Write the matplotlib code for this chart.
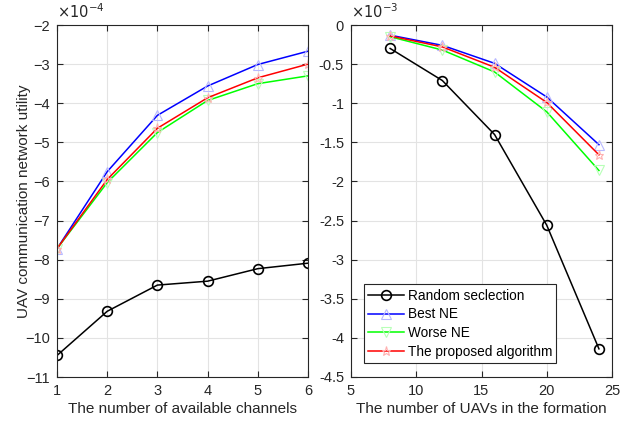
import numpy as np
import matplotlib.pyplot as plt

plt.rcParams['font.family'] = ['Liberation Sans', 'DejaVu Sans']

# -------------------------------
# Datos (izquierda en unidades de 1e-4, derecha en 1e-3)
# -------------------------------
channels = [1, 2, 3, 4, 5, 6]
ch_random = [-10.45, -9.32, -8.65, -8.55, -8.23, -8.09]
ch_best = [-7.72, -5.75, -4.31, -3.56, -3.01, -2.67]
ch_worse = [-7.72, -6.03, -4.75, -3.93, -3.50, -3.30]
ch_proposed = [-7.72, -5.95, -4.64, -3.86, -3.35, -3.00]

uavs = [8, 12, 16, 20, 24]
uav_random = [-0.30, -0.71, -1.40, -2.56, -4.14]
uav_best = [-0.13, -0.26, -0.49, -0.92, -1.53]
uav_worse = [-0.15, -0.32, -0.60, -1.11, -1.86]
uav_proposed = [-0.14, -0.28, -0.54, -0.99, -1.66]

labels = ['Random seclection', 'Best NE', 'Worse NE', 'The proposed algorithm']

fig = plt.figure(figsize=(6.32, 4.23), dpi=100)
ax1 = fig.add_axes([57 / 632, 1 - 377 / 423, 251 / 632, 352 / 423])
ax2 = fig.add_axes([351 / 632, 1 - 377 / 423, 261 / 632, 352 / 423])


def dibujar(ax, x, r, b, w, p):
    ax.plot(x, r, color='black', marker='o', markersize=7, mfc='none', mew=1.2, lw=1.1)
    ax.plot(x, b, color='blue', marker='^', markersize=6.5, mfc='none', mec='#b8b8ff', mew=0.8, lw=1.1)
    ax.plot(x, w, color='#00ff00', marker='v', markersize=6.5, mfc='none', mec='#b8ffb8', mew=0.8, lw=1.1)
    ax.plot(x, p, color='red', marker='*', markersize=6.5, mfc='none', mec='#ffb0b0', mew=0.8, lw=1.1)
    ax.grid(True, color='#e3e3e3', lw=0.8)
    ax.set_axisbelow(True)
    ax.tick_params(direction='in', labelsize=10.5, colors='#262626', length=4,
                   top=True, right=True, pad=5)
    for s in ax.spines.values():
        s.set_color('#262626')
        s.set_linewidth(0.8)


dibujar(ax1, channels, ch_random, ch_best, ch_worse, ch_proposed)
ax1.set_xlim(1, 6)
ax1.set_ylim(-11, -2)
ax1.set_xticks(channels)
ax1.set_yticks(np.arange(-11, -1, 1))
ax1.set_xlabel('The number of available channels', fontsize=11, color='#262626', labelpad=3)
ax1.set_ylabel('UAV communication network utility', fontsize=11, color='#262626')
ax1.yaxis.set_label_coords(-0.105, 0.5)
ax1.text(0.0, 1.01, r'$\times10^{-4}$', transform=ax1.transAxes, fontsize=10.5,
         color='#262626', va='bottom', ha='left')

dibujar(ax2, uavs, uav_random, uav_best, uav_worse, uav_proposed)
ax2.set_xlim(5, 25)
ax2.set_ylim(-4.5, 0)
ax2.set_xticks([5, 10, 15, 20, 25])
ax2.set_yticks(np.arange(-4.5, 0.1, 0.5))
ax2.set_yticklabels(['-4.5', '-4', '-3.5', '-3', '-2.5', '-2', '-1.5', '-1', '-0.5', '0'])
ax2.set_xlabel('The number of UAVs in the formation', fontsize=11, color='#262626', labelpad=3)
ax2.text(0.0, 1.01, r'$\times10^{-3}$', transform=ax2.transAxes, fontsize=10.5,
         color='#262626', va='bottom', ha='left')

leg = ax2.legend(labels, loc='lower left', bbox_to_anchor=(0.05, 0.04), fontsize=9.8,
                 fancybox=False, edgecolor='#262626', framealpha=1, handlelength=2.6,
                 borderpad=0.3, labelspacing=0.35, handletextpad=0.3, borderaxespad=0)
leg.get_frame().set_linewidth(0.8)

fig.savefig('out.png', dpi=100)
